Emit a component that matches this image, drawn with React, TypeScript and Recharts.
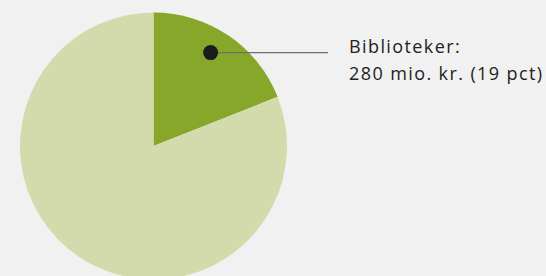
import { PieChart, Pie, Cell } from 'recharts';

const categories = ['Biblioteker', 'Øvrige'];
const amounts = [280, 1194];
const labelLines = ['Biblioteker:', '280 mio. kr. (19 pct)'];
const colors = ['#86a729', '#d3dbad'];

const data = categories.map((name, i) => ({ name, value: amounts[i] }));

const RAD = Math.PI / 180;

function SliceLabel(props: any) {
  const { cx, cy, startAngle, endAngle, outerRadius, index } = props;
  if (index !== 0) return null;
  // dot sits a bit before the slice's middle, as in the original
  const ang = startAngle - (startAngle - endAngle) * 0.46;
  const r = outerRadius * 0.82;
  const x = cx + r * Math.cos(-ang * RAD);
  const y = cy + r * Math.sin(-ang * RAD);
  const lineEnd = cx + outerRadius + 41;
  const textX = cx + outerRadius + 62;
  return (
    <g>
      <line x1={x} y1={y} x2={lineEnd} y2={y} stroke="#6f6f6f" strokeWidth={1.3} />
      <circle cx={x} cy={y} r={7.5} fill="#1c1c1c" />
      <text x={textX} y={y} fill="#222" fontSize={18} letterSpacing={1.4} fontFamily="'Open Sans', sans-serif">
        <tspan x={textX} dy={0}>{labelLines[0]}</tspan>
        <tspan x={textX} dy={27}>{labelLines[1]}</tspan>
      </text>
    </g>
  );
}

export default function App() {
  return (
    <div style={{ position: 'absolute', left: 0, top: 0, width: 546, height: 276, background: '#f1f1f1' }}>
      <PieChart width={546} height={276} margin={{ top: 0, right: 0, bottom: 0, left: 0 }}>
        <Pie
          data={data}
          dataKey="value"
          nameKey="name"
          cx={153.5}
          cy={146}
          outerRadius={133.5}
          startAngle={90}
          endAngle={-270}
          stroke="none"
          label={SliceLabel}
          labelLine={false}
          isAnimationActive={false}
        >
          {data.map((d, i) => (
            <Cell key={d.name} fill={colors[i]} />
          ))}
        </Pie>
      </PieChart>
    </div>
  );
}
